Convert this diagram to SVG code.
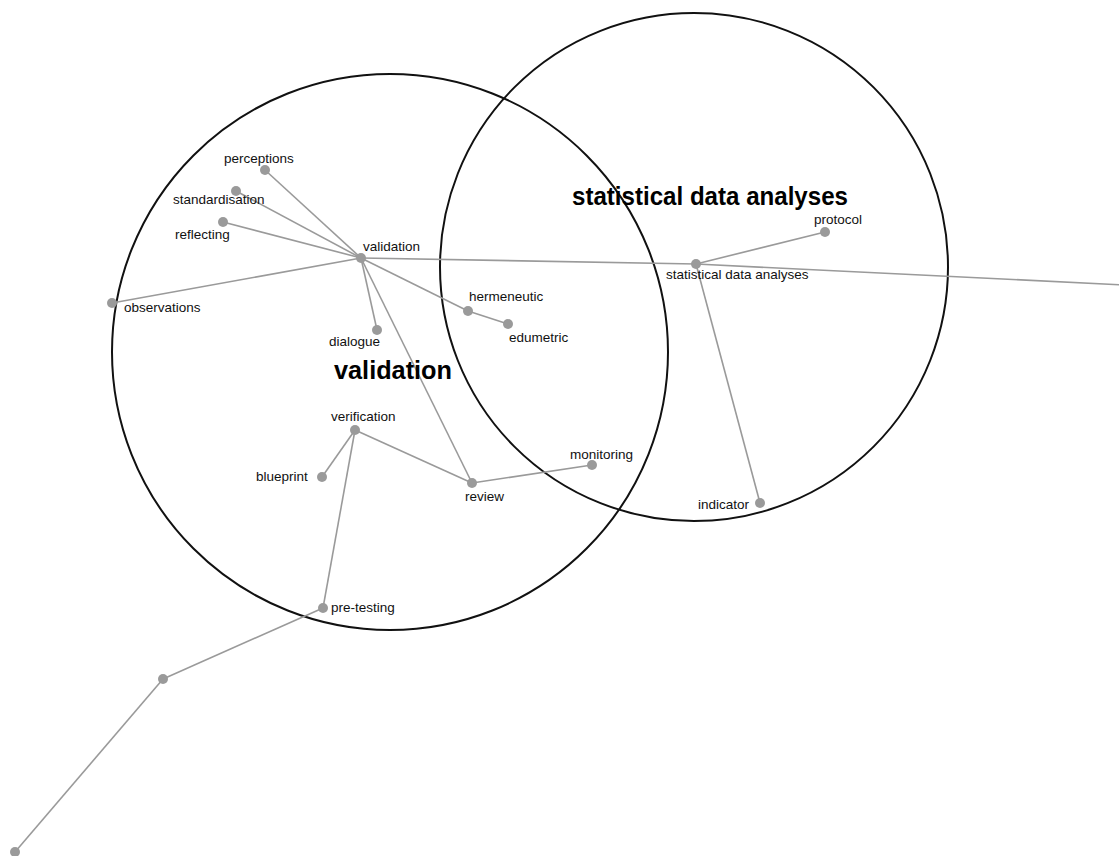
<svg xmlns="http://www.w3.org/2000/svg" width="1119" height="856" viewBox="0 0 1119 856">
  <style>
    .set { fill: none; stroke: #111; stroke-width: 2; }
    .edge { stroke: #9a9a9a; stroke-width: 1.6; fill: none; }
    .dot { fill: #9a9a9a; }
    .lbl { font-family: "Liberation Sans", Arial, sans-serif; font-size: 13.5px; fill: #111; }
    .title { font-family: "Liberation Sans", Arial, sans-serif; font-size: 25px; font-weight: bold; fill: #000; }
  </style>
  <rect width="1119" height="856" fill="#fff"/>

  <!-- category circles -->
  <g id="sets">
    <circle class="set" cx="390" cy="352" r="278"/>
    <circle class="set" cx="694" cy="267" r="254"/>
  </g>

  <!-- connectors -->
  <g id="edges">
    <line class="edge" x1="361" y1="258" x2="265" y2="170"/>
    <line class="edge" x1="361" y1="258" x2="236" y2="191"/>
    <line class="edge" x1="361" y1="258" x2="223" y2="222"/>
    <line class="edge" x1="361" y1="258" x2="112" y2="303"/>
    <line class="edge" x1="361" y1="258" x2="377" y2="330"/>
    <line class="edge" x1="361" y1="258" x2="472" y2="483"/>
    <line class="edge" x1="361" y1="258" x2="468" y2="311"/>
    <line class="edge" x1="468" y1="311" x2="508" y2="324"/>
    <line class="edge" x1="361" y1="258" x2="696" y2="264"/>
    <line class="edge" x1="696" y1="264" x2="1125" y2="285"/>
    <line class="edge" x1="696" y1="264" x2="825" y2="232"/>
    <line class="edge" x1="696" y1="264" x2="760" y2="503"/>
    <line class="edge" x1="355" y1="430" x2="472" y2="483"/>
    <line class="edge" x1="472" y1="483" x2="592" y2="465"/>
    <line class="edge" x1="355" y1="430" x2="322" y2="477"/>
    <line class="edge" x1="355" y1="430" x2="323" y2="608"/>
    <line class="edge" x1="323" y1="608" x2="163" y2="679"/>
    <line class="edge" x1="163" y1="679" x2="15" y2="852"/>
  </g>

  <!-- set titles -->
  <g id="title-validation"><text class="title" x="334" y="379" textLength="118" lengthAdjust="spacingAndGlyphs">validation</text></g>
  <g id="title-statistical"><text class="title" x="572" y="205" textLength="276" lengthAdjust="spacingAndGlyphs">statistical data analyses</text></g>

  <!-- nodes -->
  <g id="n-perceptions"><circle class="dot" cx="265" cy="170" r="5"/><text class="lbl" x="224" y="163">perceptions</text></g>
  <g id="n-standardisation"><circle class="dot" cx="236" cy="191" r="5"/><text class="lbl" x="173" y="204">standardisation</text></g>
  <g id="n-reflecting"><circle class="dot" cx="223" cy="222" r="5"/><text class="lbl" x="175" y="239">reflecting</text></g>
  <g id="n-validation"><circle class="dot" cx="361" cy="258" r="5"/><text class="lbl" x="363" y="251">validation</text></g>
  <g id="n-observations"><circle class="dot" cx="112" cy="303" r="5"/><text class="lbl" x="124" y="312">observations</text></g>
  <g id="n-dialogue"><circle class="dot" cx="377" cy="330" r="5"/><text class="lbl" x="329" y="346">dialogue</text></g>
  <g id="n-hermeneutic"><circle class="dot" cx="468" cy="311" r="5"/><text class="lbl" x="469" y="301">hermeneutic</text></g>
  <g id="n-edumetric"><circle class="dot" cx="508" cy="324" r="5"/><text class="lbl" x="509" y="342">edumetric</text></g>
  <g id="n-verification"><circle class="dot" cx="355" cy="430" r="5"/><text class="lbl" x="331" y="421">verification</text></g>
  <g id="n-blueprint"><circle class="dot" cx="322" cy="477" r="5"/><text class="lbl" x="256" y="481">blueprint</text></g>
  <g id="n-review"><circle class="dot" cx="472" cy="483" r="5"/><text class="lbl" x="465" y="501">review</text></g>
  <g id="n-monitoring"><circle class="dot" cx="592" cy="465" r="5"/><text class="lbl" x="570" y="459">monitoring</text></g>
  <g id="n-statistical"><circle class="dot" cx="696" cy="264" r="5"/><text class="lbl" x="666" y="279">statistical data analyses</text></g>
  <g id="n-protocol"><circle class="dot" cx="825" cy="232" r="5"/><text class="lbl" x="814" y="224">protocol</text></g>
  <g id="n-indicator"><circle class="dot" cx="760" cy="503" r="5"/><text class="lbl" x="698" y="509">indicator</text></g>
  <g id="n-pretesting"><circle class="dot" cx="323" cy="608" r="5"/><text class="lbl" x="331" y="612">pre-testing</text></g>
  <g id="n-anon1"><circle class="dot" cx="163" cy="679" r="5"/></g>
  <g id="n-anon2"><circle class="dot" cx="15" cy="852" r="5"/></g>
</svg>
